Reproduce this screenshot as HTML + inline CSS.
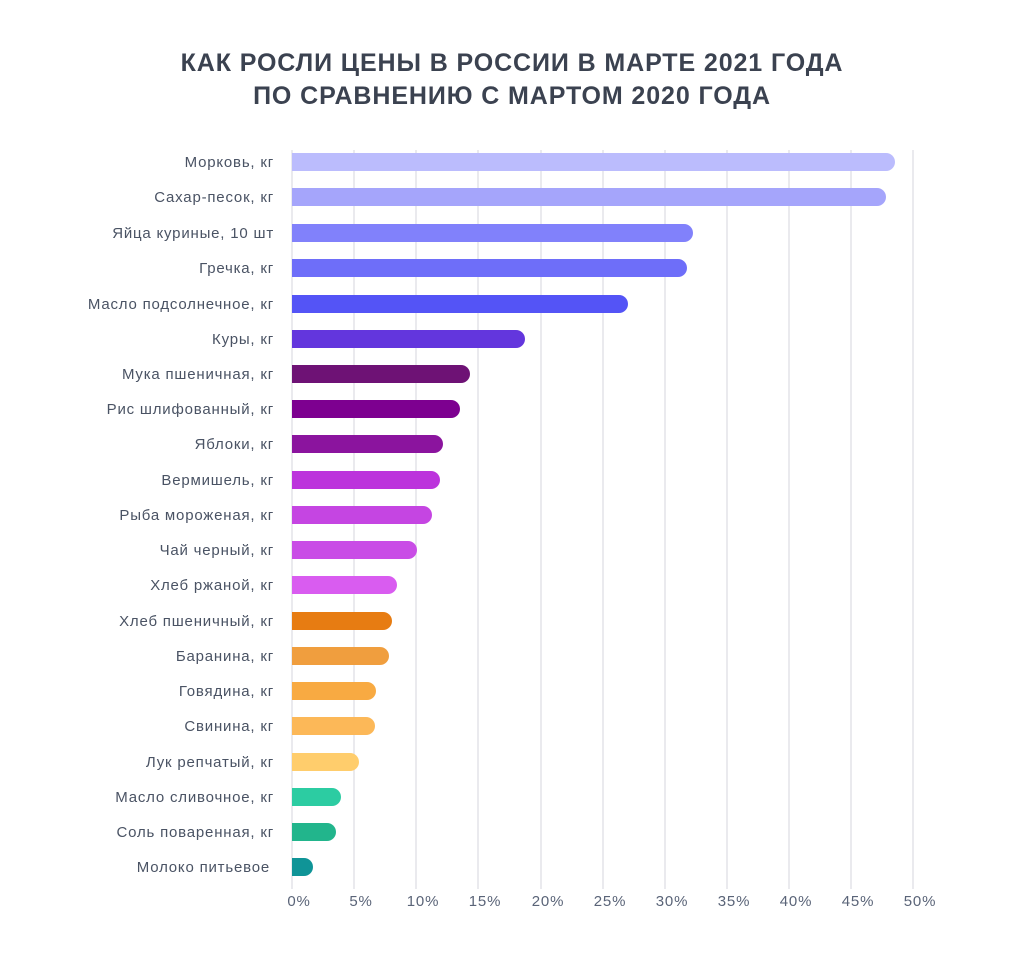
<!DOCTYPE html>
<html><head><meta charset="utf-8"><style>
html,body{margin:0;padding:0;background:#fff;}
svg{display:block;}
text{font-family:"Liberation Sans","DejaVu Sans",sans-serif;}
</style></head><body>
<svg width="1024" height="970" viewBox="0 0 1024 970" xmlns="http://www.w3.org/2000/svg">
<rect width="1024" height="970" fill="#fff"/>
<text x="512" y="71" text-anchor="middle" font-size="25" font-weight="bold" letter-spacing="0.9" fill="#3b4250">КАК РОСЛИ ЦЕНЫ В РОССИИ В МАРТЕ 2021 ГОДА</text>
<text x="512" y="104" text-anchor="middle" font-size="25" font-weight="bold" letter-spacing="0.9" fill="#3b4250">ПО СРАВНЕНИЮ С МАРТОМ 2020 ГОДА</text>
<g stroke="#e4e4e8" stroke-width="1.5">
<line x1="292" y1="150" x2="292" y2="889"/>
<line x1="354" y1="150" x2="354" y2="889"/>
<line x1="416" y1="150" x2="416" y2="889"/>
<line x1="478" y1="150" x2="478" y2="889"/>
<line x1="541" y1="150" x2="541" y2="889"/>
<line x1="603" y1="150" x2="603" y2="889"/>
<line x1="665" y1="150" x2="665" y2="889"/>
<line x1="727" y1="150" x2="727" y2="889"/>
<line x1="789" y1="150" x2="789" y2="889"/>
<line x1="851" y1="150" x2="851" y2="889"/>
<line x1="913" y1="150" x2="913" y2="889"/>
</g>
<g font-size="15" letter-spacing="0.8" fill="#5a6478" text-anchor="middle">
<text x="299" y="906">0%</text><text x="361" y="906">5%</text><text x="423" y="906">10%</text><text x="485" y="906">15%</text><text x="548" y="906">20%</text><text x="610" y="906">25%</text><text x="672" y="906">30%</text><text x="734" y="906">35%</text><text x="796" y="906">40%</text><text x="858" y="906">45%</text><text x="920" y="906">50%</text>
</g>
<g font-size="15" letter-spacing="0.8" fill="#4a5364" text-anchor="end">
<text x="274" y="167">Морковь, кг</text>
<text x="274" y="202">Сахар-песок, кг</text>
<text x="274" y="238">Яйца куриные, 10 шт</text>
<text x="274" y="273">Гречка, кг</text>
<text x="274" y="309">Масло подсолнечное, кг</text>
<text x="274" y="344">Куры, кг</text>
<text x="274" y="379">Мука пшеничная, кг</text>
<text x="274" y="414">Рис шлифованный, кг</text>
<text x="274" y="449">Яблоки, кг</text>
<text x="274" y="485">Вермишель, кг</text>
<text x="274" y="520">Рыба мороженая, кг</text>
<text x="274" y="555">Чай черный, кг</text>
<text x="274" y="590">Хлеб ржаной, кг</text>
<text x="274" y="626">Хлеб пшеничный, кг</text>
<text x="274" y="661">Баранина, кг</text>
<text x="274" y="696">Говядина, кг</text>
<text x="274" y="731">Свинина, кг</text>
<text x="274" y="767">Лук репчатый, кг</text>
<text x="274" y="802">Масло сливочное, кг</text>
<text x="274" y="837">Соль поваренная, кг</text>
<text x="270" y="872">Молоко питьевое</text>
</g>
<g>
<path d="M292 153H886a9 9 0 0 1 0 18H292Z" fill="#bbbcfd"/>
<path d="M292 188H877a9 9 0 0 1 0 18H292Z" fill="#a5a5fb"/>
<path d="M292 224H684a9 9 0 0 1 0 18H292Z" fill="#8181fb"/>
<path d="M292 259H678a9 9 0 0 1 0 18H292Z" fill="#6e6ef9"/>
<path d="M292 295H619a9 9 0 0 1 0 18H292Z" fill="#5454f6"/>
<path d="M292 330H516a9 9 0 0 1 0 18H292Z" fill="#6336dd"/>
<path d="M292 365H461a9 9 0 0 1 0 18H292Z" fill="#6e1275"/>
<path d="M292 400H451a9 9 0 0 1 0 18H292Z" fill="#7d0090"/>
<path d="M292 435H434a9 9 0 0 1 0 18H292Z" fill="#8b149e"/>
<path d="M292 471H431a9 9 0 0 1 0 18H292Z" fill="#bc34dc"/>
<path d="M292 506H423a9 9 0 0 1 0 18H292Z" fill="#c545e2"/>
<path d="M292 541H408a9 9 0 0 1 0 18H292Z" fill="#c94de6"/>
<path d="M292 576H388a9 9 0 0 1 0 18H292Z" fill="#d95cf0"/>
<path d="M292 612H383a9 9 0 0 1 0 18H292Z" fill="#e77c12"/>
<path d="M292 647H380a9 9 0 0 1 0 18H292Z" fill="#f09e3e"/>
<path d="M292 682H367a9 9 0 0 1 0 18H292Z" fill="#f8aa42"/>
<path d="M292 717H366a9 9 0 0 1 0 18H292Z" fill="#fcb858"/>
<path d="M292 753H350a9 9 0 0 1 0 18H292Z" fill="#ffcd6c"/>
<path d="M292 788H332a9 9 0 0 1 0 18H292Z" fill="#2ccca2"/>
<path d="M292 823H327a9 9 0 0 1 0 18H292Z" fill="#22b58c"/>
<path d="M292 858H304a9 9 0 0 1 0 18H292Z" fill="#0f9497"/>
</g>
</svg>
</body></html>
